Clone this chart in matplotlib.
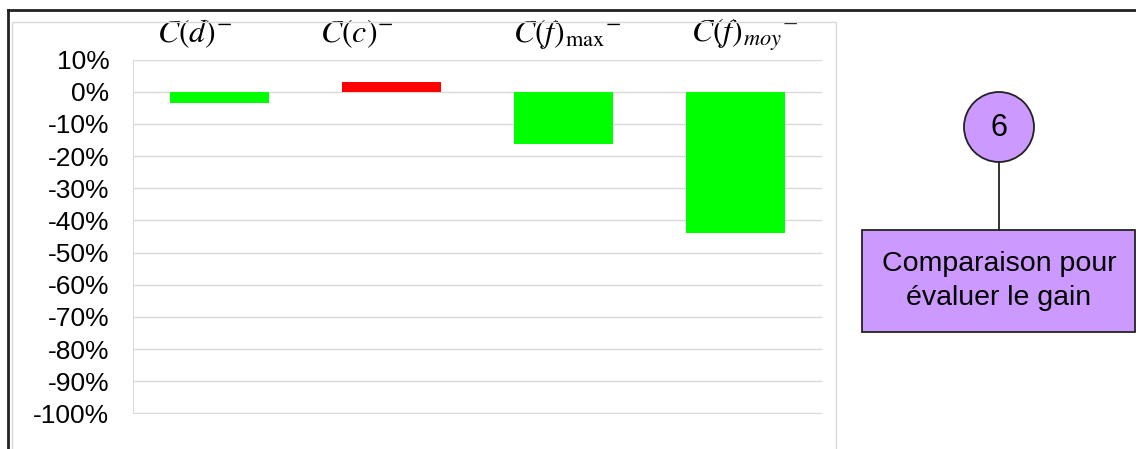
import matplotlib.pyplot as plt
from matplotlib.patches import Circle, Rectangle
from matplotlib.lines import Line2D
from matplotlib.ticker import FuncFormatter, MultipleLocator

plt.rcParams['font.family'] = ['Liberation Sans', 'DejaVu Sans']
plt.rcParams['mathtext.fontset'] = 'stix'

# values (%)
categories = [r'$C(d)^{-}$', r'$C(c)^{-}$', r'$C(f)_{\mathrm{max}}{}^{-}$', r'$C(f)_{moy}{}^{-}$']
values = [-3.4, 3.0, -16.2, -43.9]
bar_colors = ['#00ff00', '#ff0000', '#00ff00', '#00ff00']
label_offsets = [-0.14, -0.2, 0.02, 0.05]

fig = plt.figure(figsize=(11.36, 4.49), dpi=100)
ax = fig.add_axes([133 / 1136, 1 - 413.5 / 449, 689 / 1136, 354 / 449])

x = range(len(values))
ax.bar(x, values, width=0.575, color=bar_colors, zorder=3)

ax.set_xlim(-0.5, 3.5)
ax.set_ylim(-100, 10)
ax.yaxis.set_major_locator(MultipleLocator(10))
ax.yaxis.set_major_formatter(FuncFormatter(lambda v, p: f"{v:.0f}%"))
ax.tick_params(axis='y', length=0, pad=17, labelsize=19)
ax.set_xticks([])
ax.grid(axis='y', color='#d9d9d9', linewidth=1, zorder=0)
for s in ['top', 'right', 'bottom']:
    ax.spines[s].set_visible(False)
ax.spines['left'].set_color('#d9d9d9')

for i, lab in enumerate(categories):
    ax.text(i + label_offsets[i], 15.4, lab, ha='center', va='baseline',
            fontsize=23, clip_on=False)

# overlay in pixel units for the frame and the side note
ov = fig.add_axes([0, 0, 1, 1])
ov.set_xlim(0, 1136)
ov.set_ylim(449, 0)
ov.axis('off')

ov.add_patch(Rectangle((12, 22), 824, 440, fill=False, edgecolor='#d9d9d9', linewidth=1))
ov.add_line(Line2D([8, 1136], [10, 10], color='#222222', linewidth=2))
ov.add_line(Line2D([8, 8], [10, 449], color='#222222', linewidth=2))

ov.add_line(Line2D([999, 999], [162, 230], color='#222222', linewidth=1.3))
ov.add_patch(Circle((999, 127), 35, facecolor='#cc99ff', edgecolor='#222222', linewidth=1.3))
ov.text(999, 128, '6', ha='center', va='center', fontsize=22)
ov.add_patch(Rectangle((862, 230), 273, 102, facecolor='#cc99ff', edgecolor='#222222', linewidth=1.3))
ov.text(999, 281, 'Comparaison pour\névaluer le gain', ha='center', va='center',
        fontsize=20.5, linespacing=1.4)

fig.savefig('out.png', dpi=100)
